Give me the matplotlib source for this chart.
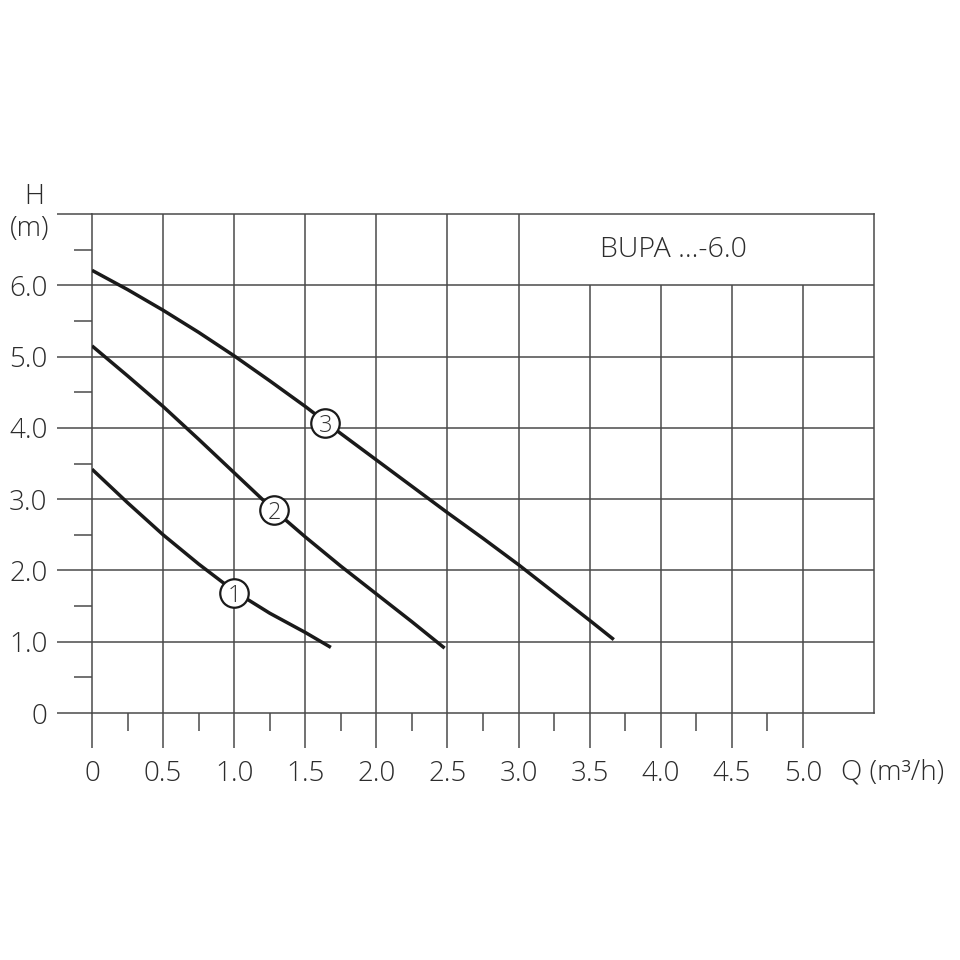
import matplotlib.pyplot as plt
import numpy as np

plt.rcParams['font.family'] = ['Open Sans', 'DejaVu Sans']

# Kennlinien H(Q) der drei Drehzahlstufen
q1 = [0, 0.25, 0.5, 0.75, 1.0, 1.25, 1.5, 1.68]
h1 = [3.42, 2.95, 2.50, 2.09, 1.71, 1.40, 1.13, 0.92]

q2 = [0, 0.25, 0.5, 0.75, 1.0, 1.25, 1.5, 1.75, 2.0, 2.25, 2.48]
h2 = [5.15, 4.73, 4.30, 3.84, 3.37, 2.90, 2.47, 2.06, 1.67, 1.28, 0.91]

q3 = [0, 0.25, 0.5, 0.75, 1.0, 1.25, 1.5, 1.75, 2.0, 2.25, 2.5, 2.75, 3.0, 3.25, 3.5, 3.67]
h3 = [6.21, 5.94, 5.65, 5.34, 5.01, 4.66, 4.30, 3.92, 3.55, 3.18, 2.81, 2.45, 2.08, 1.69, 1.30, 1.03]

# Stufen-Marker (Position auf der Kurve)
stufen = ['1', '2', '3']
stufe_q = [1.0, 1.28, 1.64]
stufe_h = [1.69, 2.85, 4.07]

x_ticks = [0, 0.5, 1.0, 1.5, 2.0, 2.5, 3.0, 3.5, 4.0, 4.5, 5.0]
x_labels = ['0', '0.5', '1.0', '1.5', '2.0', '2.5', '3.0', '3.5', '4.0', '4.5', '5.0']
y_ticks = [0, 1, 2, 3, 4, 5, 6, 7]
y_labels = ['0', '1.0', '2.0', '3.0', '4.0', '5.0', '6.0', '']

titel = 'BUPA ...-6.0'

grid_col = '#4a4a4a'
txt_col = '#2c2c2c'
kurve_col = '#1a1a1a'

fig = plt.figure(figsize=(9.6, 9.6), dpi=100)
ax = fig.add_axes([92 / 960, 1 - 713 / 960, (874 - 92) / 960, (713 - 214) / 960])
ax.set_xlim(0, 5.5)
ax.set_ylim(0, 7)

# Raster: oben rechts bleibt ein Feld fuer den Titel frei
for q in x_ticks[1:]:
    top = 6 if q > 3.0 else 7
    ax.vlines(q, 0, top, color=grid_col, lw=1.1, zorder=1)
for h in y_ticks[1:-1]:
    ax.hlines(h, 0, 5.5, color=grid_col, lw=1.1, zorder=1)

for s in ax.spines.values():
    s.set_color(grid_col)
    s.set_linewidth(1.1)

ax.set_xticks(x_ticks)
ax.set_xticklabels(x_labels)
ax.set_xticks(np.arange(0.25, 5.0, 0.5), minor=True)
ax.set_yticks(y_ticks)
ax.set_yticklabels(y_labels)
ax.set_yticks(np.arange(0.5, 7.0, 1.0), minor=True)

ax.tick_params(axis='x', which='major', direction='out', length=25, width=1.1,
               color=grid_col, pad=9, labelsize=20, labelcolor=txt_col)
ax.tick_params(axis='x', which='minor', direction='out', length=13, width=1.1, color=grid_col)
ax.tick_params(axis='y', which='major', direction='out', length=25, width=1.1,
               color=grid_col, pad=7, labelsize=20, labelcolor=txt_col)
ax.tick_params(axis='y', which='minor', direction='out', length=13, width=1.1, color=grid_col)
for lab in ax.get_xticklabels() + ax.get_yticklabels():
    lab.set_fontweight('light')

for q, h in [(q1, h1), (q2, h2), (q3, h3)]:
    ax.plot(q, h, color=kurve_col, lw=2.5, solid_capstyle='butt',
            solid_joinstyle='round', zorder=3)

ax.plot(stufe_q, stufe_h, 'o', ms=20.5, mfc='white', mec=kurve_col, mew=1.6,
        zorder=4, clip_on=False)
for s, q, h in zip(stufen, stufe_q, stufe_h):
    ax.text(q, h, s, ha='center', va='center_baseline', fontsize=17, color='#333333',
            fontweight='light', zorder=5)

ax.text(4.09, 6.49, titel, ha='center', va='center', fontsize=20.5, color=txt_col,
        fontweight='light')
ax.text(-0.41, 7.24, 'H', ha='center', va='center', fontsize=20, color=txt_col,
        fontweight='light', clip_on=False)
ax.text(-0.44, 6.79, '(m)', ha='center', va='center', fontsize=20, color=txt_col,
        fontweight='light', clip_on=False)
ax.text(5.27, -0.84, 'Q (m³/h)', ha='left', va='center', fontsize=20, color=txt_col,
        fontweight='light', clip_on=False)

fig.savefig('out.png', dpi=100, facecolor='white')
